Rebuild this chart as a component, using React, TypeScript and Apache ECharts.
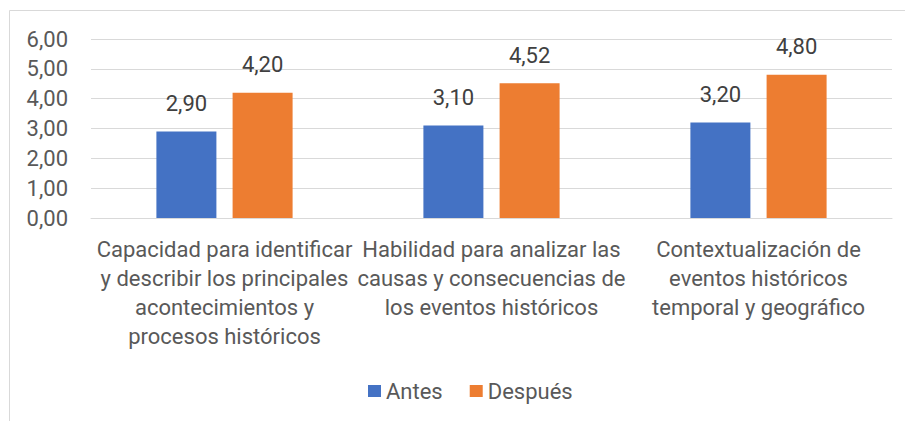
import React, { useEffect, useRef } from "react";
import * as echarts from "echarts";

const categories = [
  "Capacidad para identificar\ny describir los principales\nacontecimientos y\nprocesos históricos",
  "Habilidad para analizar las\ncausas y consecuencias de\nlos eventos históricos",
  "Contextualización de\neventos históricos\ntemporal y geográfico",
];
const antes = [2.9, 3.1, 3.2];
const despues = [4.2, 4.52, 4.8];
const seriesNames = ["Antes", "Después"];

const FONT = "Roboto, 'Liberation Sans', sans-serif";
const fmt = (v: number) => v.toFixed(2).replace(".", ",");

export default function App() {
  const ref = useRef<HTMLDivElement>(null);
  useEffect(() => {
    if (!ref.current) return;
    const chart = echarts.init(ref.current, undefined, { renderer: "svg" });
    const dataLabel = {
      show: true,
      position: "top",
      distance: 17,
      color: "#404040",
      fontSize: 22,
      fontFamily: FONT,
      formatter: (p: any) => fmt(p.value),
    };
    chart.setOption({
      animation: false,
      backgroundColor: "#ffffff",
      textStyle: { fontFamily: FONT },
      graphic: [
        {
          type: "rect",
          shape: { x: 9.5, y: 10.5, width: 1000, height: 1000 },
          style: { fill: "none", stroke: "#d9d9d9", lineWidth: 1 },
          silent: true,
        },
      ],
      grid: { left: 91, right: 13, top: 39, bottom: 203, containLabel: false },
      legend: {
        data: seriesNames,
        left: 363,
        top: 375,
        itemWidth: 13,
        itemHeight: 12,
        itemGap: 27,
        icon: "rect",
        textStyle: { color: "#595959", fontSize: 22, fontFamily: FONT },
      },
      xAxis: {
        type: "category",
        data: categories,
        axisLine: { show: true, lineStyle: { color: "#d9d9d9", width: 1 } },
        axisTick: { show: false },
        axisLabel: {
          color: "#595959",
          fontSize: 22,
          lineHeight: 29,
          margin: 17,
          interval: 0,
          align: "center",
          fontFamily: FONT,
        },
      },
      yAxis: {
        type: "value",
        min: 0,
        max: 6,
        interval: 1,
        axisLine: { show: false },
        axisTick: { show: false },
        splitLine: { lineStyle: { color: "#d9d9d9", width: 1 } },
        axisLabel: {
          color: "#595959",
          fontSize: 22,
          margin: 23,
          fontFamily: FONT,
          formatter: (v: number) => fmt(v),
        },
      },
      series: [
        {
          name: seriesNames[0],
          type: "bar",
          data: antes,
          barWidth: 60,
          barGap: "27%",
          itemStyle: { color: "#4472c4" },
          label: dataLabel,
        },
        {
          name: seriesNames[1],
          type: "bar",
          data: despues,
          barWidth: 60,
          barGap: "27%",
          itemStyle: { color: "#ed7d31" },
          label: dataLabel,
        },
      ],
    });
    return () => chart.dispose();
  }, []);
  return (
    <div
      ref={ref}
      style={{ position: "fixed", left: 0, top: 0, width: 905, height: 421 }}
    />
  );
}
